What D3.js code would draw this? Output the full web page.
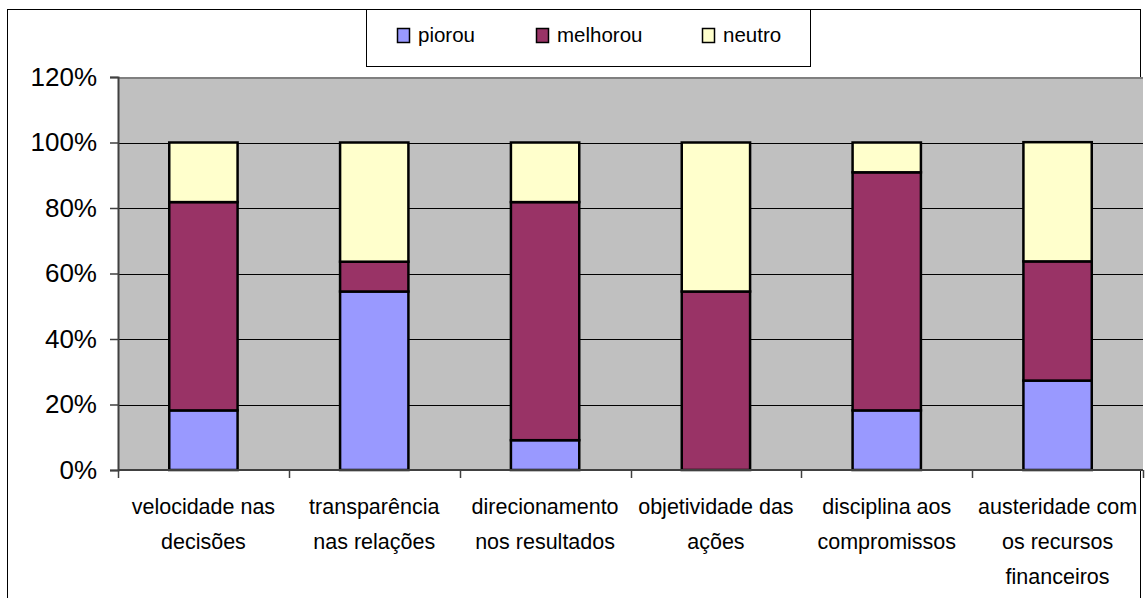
<!DOCTYPE html>
<html>
<head>
<meta charset="utf-8">
<script src="https://cdn.jsdelivr.net/npm/d3@7"></script>
<style>
  body { margin: 0; background: #fff; }
  text { font-family: "Liberation Sans", Arial, sans-serif; fill: #000; }
</style>
</head>
<body>
<div id="chart"></div>
<script>
/* categories (each label split in lines as in the picture) */
const categories = [
  ["velocidade nas", "decisões"],
  ["transparência", "nas relações"],
  ["direcionamento", "nos resultados"],
  ["objetividade das", "ações"],
  ["disciplina aos", "compromissos"],
  ["austeridade com", "os recursos", "financeiros"]
];

const seriesNames = ["piorou", "melhorou", "neutro"];
const piorou   = [18.2, 54.5, 9.1, 0, 18.2, 27.3];
const melhorou = [63.6, 9.1, 72.7, 54.5, 72.7, 36.4];
const neutro   = [18.2, 36.4, 18.2, 45.5, 9.1, 36.4];
const yTicks = [0, 20, 40, 60, 80, 100, 120];

const COLORS = { piorou: "#9999FF", melhorou: "#993366", neutro: "#FFFFCC" };

const W = 1146, H = 598;
const plot = { left: 118, right: 1143, top: 77, bottom: 470 };

const svg = d3.select("#chart").append("svg")
  .attr("width", W)
  .attr("height", H);

// outer chart border
svg.append("rect")
  .attr("x", 7.5).attr("y", 9.5)
  .attr("width", 1133).attr("height", 600)
  .attr("fill", "#fff")
  .attr("stroke", "#000");

const rows = categories.map((c, i) => ({
  key: i, piorou: piorou[i], melhorou: melhorou[i], neutro: neutro[i]
}));

const x = d3.scaleBand()
  .domain(rows.map(d => d.key))
  .range([plot.left, plot.right])
  .padding(0);

const y = d3.scaleLinear()
  .domain([0, 120])
  .range([plot.bottom, plot.top]);

// plot area
svg.append("rect")
  .attr("x", plot.left).attr("y", plot.top)
  .attr("width", plot.right - plot.left)
  .attr("height", plot.bottom - plot.top)
  .attr("fill", "#C0C0C0");

svg.append("line")
  .attr("x1", plot.left).attr("x2", plot.right)
  .attr("y1", plot.top + 1).attr("y2", plot.top + 1)
  .attr("stroke", "#808080").attr("stroke-width", 2);

// gridlines
svg.append("g")
  .selectAll("line")
  .data(yTicks.filter(t => t > 0 && t < 120))
  .join("line")
  .attr("x1", plot.left).attr("x2", plot.right)
  .attr("y1", d => Math.round(y(d)) + 0.5)
  .attr("y2", d => Math.round(y(d)) + 0.5)
  .attr("stroke", "#000");

// stacked bars
const stack = d3.stack().keys(seriesNames)(rows);
const barW = x.bandwidth() * 0.4;

svg.append("g")
  .selectAll("g")
  .data(stack)
  .join("g")
  .attr("fill", d => COLORS[d.key])
  .selectAll("rect")
  .data(d => d.filter(s => s[1] - s[0] > 0))
  .join("rect")
  .attr("x", d => x(d.data.key) + (x.bandwidth() - barW) / 2)
  .attr("y", d => y(d[1]))
  .attr("width", barW)
  .attr("height", d => y(d[0]) - y(d[1]))
  .attr("stroke", "#000")
  .attr("stroke-width", 2.5);

// y axis
const yAxis = svg.append("g")
  .attr("transform", `translate(${plot.left},0)`)
  .call(d3.axisLeft(y).tickValues(yTicks).tickFormat(d => d + "%").tickSize(8).tickPadding(13));
yAxis.select(".domain").attr("stroke", "#404040").attr("stroke-width", 2);
yAxis.selectAll(".tick line").attr("stroke", "#404040").attr("stroke-width", 1.5);
yAxis.selectAll(".tick text")
  .style("font-size", "26px")
  .style("font-family", "'Liberation Sans', Arial, sans-serif")
  .attr("fill", "#000");

// x axis: ticks at category boundaries
const bounds = d3.range(categories.length + 1).map(i => plot.left + i * x.step());
svg.append("line")
  .attr("x1", plot.left).attr("x2", plot.right)
  .attr("y1", plot.bottom).attr("y2", plot.bottom)
  .attr("stroke", "#404040").attr("stroke-width", 2);
svg.append("g")
  .selectAll("line")
  .data(bounds)
  .join("line")
  .attr("x1", d => Math.round(d) + 0.5).attr("x2", d => Math.round(d) + 0.5)
  .attr("y1", plot.bottom).attr("y2", plot.bottom + 8)
  .attr("stroke", "#404040").attr("stroke-width", 1.5);

// category labels
svg.append("g")
  .selectAll("text")
  .data(rows)
  .join("text")
  .attr("x", d => x(d.key) + x.bandwidth() / 2)
  .attr("y", 514)
  .attr("text-anchor", "middle")
  .style("font-size", "21.5px")
  .selectAll("tspan")
  .data(d => categories[d.key])
  .join("tspan")
  .attr("x", function () { return this.parentNode.getAttribute("x"); })
  .attr("dy", (d, i) => i === 0 ? 0 : 35)
  .text(d => d);

// legend
const legend = svg.append("g");
legend.append("rect")
  .attr("x", 366.5).attr("y", 9.5)
  .attr("width", 444).attr("height", 57)
  .attr("fill", "#fff").attr("stroke", "#000");

const legendX = [397, 536, 702];
const items = legend.selectAll("g")
  .data(seriesNames)
  .join("g")
  .attr("transform", (d, i) => `translate(${legendX[i]},28)`);
items.append("rect")
  .attr("x", 0.5).attr("y", 0.5)
  .attr("width", 12).attr("height", 14)
  .attr("fill", d => COLORS[d])
  .attr("stroke", "#000").attr("stroke-width", 1.5);
items.append("text")
  .attr("x", 21).attr("y", 14)
  .style("font-size", "20.5px")
  .text(d => d);
</script>
</body>
</html>
